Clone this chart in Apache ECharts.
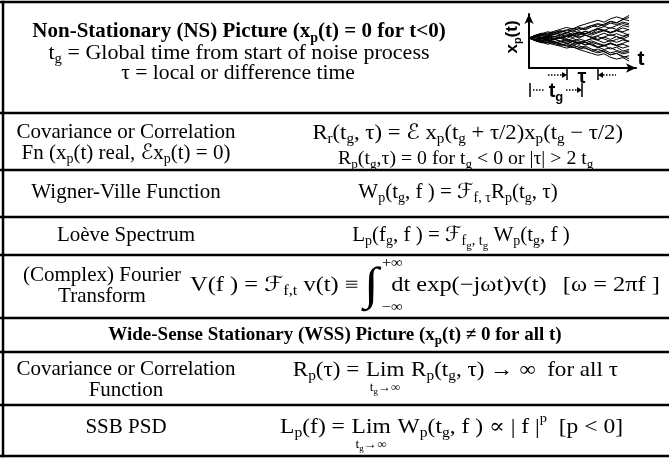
<!DOCTYPE html>
<html><head><meta charset="utf-8">
<script src="https://cdn.jsdelivr.net/npm/echarts@6/dist/echarts.min.js"></script>
<style>html,body{margin:0;padding:0;background:#fff}#c{width:669px;height:458px}</style>
</head><body><div id="c"></div>
<script>
// ---------------- data ----------------
const headerLines = [
  'Non-Stationary (NS) Picture (x_{p}(t) = 0 for t<0)',
  't_{g} = Global time from start of noise process',
  'τ = local or difference time'
];
const rowLabels = [
  ['Covariance or Correlation', 'Fn (x_{p}(t) real, ℰx_{p}(t) = 0)'],
  ['Wigner-Ville Function'],
  ['Loève Spectrum'],
  ['(Complex) Fourier', 'Transform'],
  [],
  ['Covariance or Correlation', 'Function'],
  ['SSB PSD']
];
const sectionTitle = 'Wide-Sense Stationary (WSS) Picture (x_{p}(t) ≠ 0 for all t)';
const equations = [
  ['R_{r}(t_{g}, τ) = ℰ x_{p}(t_{g} + τ/2)x_{p}(t_{g} − τ/2)', 'R_{p}(t_{g},τ) = 0 for t_{g} < 0 or |τ| > 2 t_{g}'],
  ['W_{p}(t_{g}, f ) = ℱ_{f, τ}R_{p}(t_{g}, τ)'],
  ['L_{p}(f_{g}, f ) = ℱ_{f}__{g}_{, t}__{g} W_{p}(t_{g}, f )'],
  ['V(f ) = ℱ_{f,t} v(t) ≡', 'dt exp(−jωt)v(t)', '[ω = 2πf ]'],
  [],
  ['R_{p}(τ) =', 'R_{p}(t_{g}, τ) → ∞  for all τ'],
  ['L_{p}(f) =', 'W_{p}(t_{g}, f ) ∝ | f |^{p}  [p < 0]']
];
const integralLimits = ['+∞', '−∞'];
const limitWord = 'Lim';
const limitSub = 't_{g}→∞';
const plotLabels = { y: 'x_{p}(t)', x: 't', tau: 'τ', tg: 't_{g}' };

// hand-read noise traces (x_p(t) sample paths), t = 0..16
const noiseTraces = [
  [0, .06, -.02, .1, .04, .16, .08, .22, .14, .28, .2, .36, .3, .44, .36, .52, .46],
  [0, -.06, .02, -.1, -.04, -.16, -.1, -.24, -.16, -.3, -.22, -.38, -.3, -.46, -.38, -.54, -.48],
  [0, .1, .16, .1, .24, .3, .22, .36, .44, .38, .52, .6, .54, .68, .62, .78, .72],
  [0, -.1, -.16, -.08, -.22, -.3, -.24, -.38, -.46, -.4, -.54, -.62, -.56, -.7, -.64, -.8, -.74],
  [0, .04, .1, .02, .08, -.02, .06, .14, .04, .12, .02, .1, .2, .1, .18, .08, .16],
  [0, -.04, -.1, -.02, -.08, .02, -.06, -.14, -.04, -.12, -.02, -.1, -.2, -.1, -.18, -.08, -.16],
  [0, .08, .14, .2, .28, .36, .44, .38, .5, .58, .66, .74, .66, .8, .88, .8, .94],
  [0, -.08, -.14, -.2, -.28, -.34, -.42, -.36, -.48, -.56, -.64, -.72, -.66, -.8, -.88, -.82, -.96],
  [0, .06, .12, .06, .14, .22, .16, .1, .2, .28, .18, .26, .34, .24, .32, .42, .34],
  [0, -.06, -.12, -.06, -.14, -.22, -.16, -.1, -.2, -.28, -.18, -.26, -.34, -.24, -.32, -.42, -.34],
  [0, .1, .04, -.04, .06, -.02, -.1, -.02, -.12, -.2, -.12, -.22, -.3, -.22, -.32, -.26, -.36],
  [0, -.1, -.04, .04, -.06, .02, .1, .02, .12, .2, .12, .22, .3, .22, .32, .26, .36],
  [0, .04, .12, .2, .14, .26, .34, .28, .4, .34, .46, .56, .5, .62, .56, .66, .6],
  [0, -.04, -.12, -.2, -.14, -.26, -.34, -.28, -.4, -.34, -.46, -.56, -.5, -.62, -.56, -.66, -.6],
  [0, .02, -.06, .04, -.04, .08, -.02, .1, 0, .12, .02, -.08, .04, -.06, .06, -.04, .08],
  [0, .1, .18, .26, .2, .3, .24, .14, .24, .16, .28, .38, .48, .4, .52, .6, .54],
  [0, -.1, -.18, -.26, -.2, -.3, -.24, -.14, -.24, -.16, -.28, -.38, -.48, -.4, -.52, -.6, -.54],
  [0, .06, 0, .08, .16, .24, .32, .4, .32, .44, .52, .46, .58, .7, .64, .76, .86],
  [0, -.06, 0, -.08, -.16, -.24, -.32, -.4, -.32, -.44, -.52, -.46, -.58, -.7, -.64, -.76, -.86],
  [0, .08, .02, .12, .22, .14, .06, .16, .26, .18, .3, .4, .32, .2, .3, .22, .12],
  [0, -.08, -.02, -.12, -.22, -.14, -.06, -.16, -.26, -.18, -.3, -.4, -.32, -.2, -.3, -.22, -.12],
  [0, .12, .2, .14, .04, .12, .2, .3, .22, .12, .04, -.06, .04, .14, .06, -.04, -.14],
  [0, -.12, -.2, -.14, -.04, -.12, -.2, -.3, -.22, -.12, -.04, .06, -.04, -.14, -.06, .04, .14]
];

// ---------------- layout / style ----------------
const SERIF = "'Liberation Serif','Times New Roman','DejaVu Serif','DejaVu Sans',serif";
const SANS = "'Liberation Sans',Arial,'DejaVu Sans',sans-serif";
const EDGES = [2, 113, 170, 217, 255, 318, 352, 405, 456];
const BORDER_X = 3;
const LW = 2.5;
const FS = 21;

function toRich(str) {
  let out = '', buf = '', i = 0;
  const flush = () => { if (buf) { out += '{n|' + buf + '}'; buf = ''; } };
  const grab = (k, skip) => { flush(); const j = str.indexOf('}', i); out += '{' + k + '|' + str.slice(i + skip, j) + '}'; i = j + 1; };
  while (i < str.length) {
    if (str.startsWith('__{', i)) grab('ss', 3);
    else if (str.startsWith('_{', i)) grab('s', 2);
    else if (str.startsWith('^{', i)) grab('u', 2);
    else { buf += str[i]; i++; }
  }
  flush();
  return out;
}
function richStyles(size, weight, family) {
  const f = family || SERIF, w = weight || 'normal';
  const mk = (fs, pad) => ({ fontSize: fs, fontFamily: f, fontWeight: w, fill: '#000', color: '#000', verticalAlign: 'middle', padding: pad });
  return {
    n: mk(size, [0, 0, 0, 0]),
    s: mk(Math.round(size * 0.66), [Math.round(size * 0.62), 0, 0, 0]),
    ss: mk(Math.round(size * 0.5), [Math.round(size * 1.05), 0, 0, 0]),
    u: mk(Math.round(size * 0.62), [0, 0, Math.round(size * 0.75), 0])
  };
}
function txt(str, x, y, size, opts) {
  opts = opts || {};
  return {
    type: 'text', x: x, y: y, rotation: opts.rotation || 0, scaleX: opts.sx || 1,
    style: {
      text: toRich(str), rich: richStyles(size, opts.weight, opts.family),
      align: opts.align || 'center', verticalAlign: 'middle', fill: '#000'
    }
  };
}
function measure(str, size, weight, family) {
  const t = new echarts.graphic.Text({ style: { text: toRich(str), rich: richStyles(size, weight, family) } });
  return t.getBoundingRect().width;
}

function renderRow(params, api) {
  const r = api.value(0);
  const P = (x, y) => api.coord([x, y]);
  const ch = [];
  const top = EDGES[r], bot = EDGES[r + 1];
  const hl = (y) => { const a = P(0, y), b = P(669, y); return { type: 'line', shape: { x1: a[0], y1: a[1], x2: b[0], y2: b[1] }, style: { stroke: '#000', lineWidth: LW } }; };
  const a = P(BORDER_X, top), b = P(BORDER_X, bot);
  ch.push({ type: 'line', shape: { x1: a[0], y1: a[1] - LW / 2, x2: b[0], y2: b[1] + LW / 2 }, style: { stroke: '#000', lineWidth: LW } });
  if (r === 0) ch.push(hl(top));
  ch.push(hl(bot));
  const T = (s, x, y, size, o) => { const p = P(x, y); ch.push(txt(s, p[0], p[1], size, o)); };
  if (r === 0) {
    T(headerLines[0], 239, 32, FS, { weight: 'bold' });
    T(headerLines[1], 239, 53, FS, { sx: 1.05 });
    T(headerLines[2], 238, 73, FS, { sx: 1.03 });
    return { type: 'group', children: ch };
  }
  const k = r - 1;
  const lab = rowLabels[k], eq = equations[k];
  if (k === 0) {
    const s1 = 1.08, w1 = measure(eq[0], FS) * s1;
    const c = 623 - w1 / 2;
    T(lab[0], 126, 132, FS); T(lab[1], 126, 153, FS);
    T(eq[0], c, 133, FS, { sx: s1 }); T(eq[1], c - 2, 159, 18, { sx: 1.1 });
  } else if (k === 1 || k === 2) {
    const y = k === 1 ? 192 : 235;
    T(lab[0], 126, y, FS); T(eq[0], k === 1 ? 458 : 461, y, FS);
  } else if (k === 3) {
    T(lab[0], 102, 275, FS); T(lab[1], 102, 296, FS);
    const wA = measure(eq[0], FS), wB = measure(eq[1], FS), wC = measure(eq[2], FS);
    const total = wA + 28 + wB + 14 + wC;
    const left = 190, s = (660 - left) / total;
    const X = (off) => left + off * s;
    T(eq[0], X(wA), 285, FS, { align: 'right', sx: s });
    T('∫', X(wA + 11), 287, 46, { sx: s });
    T(integralLimits[0], X(wA + 20), 263, 14, { align: 'left', sx: s });
    T(integralLimits[1], X(wA + 20), 307, 14, { align: 'left', sx: s });
    T(eq[1], X(wA + 28), 285, FS, { align: 'left', sx: s });
    T(eq[2], 660, 285, FS, { align: 'right', sx: s });
  } else if (k === 4) {
    T(sectionTitle, 335, 335, 19, { weight: 'bold' });
  } else {
    const y = k === 5 ? 370 : 427;
    const rightEnd = k === 5 ? 618 : 623;
    const s = k === 5 ? 1.1 : 1.12;
    const wB = measure(eq[1], FS) * s, wL = measure(limitWord, FS) * s;
    const bLeft = rightEnd - wB;
    const lc = bLeft - 6 * s - wL / 2;
    if (lab.length === 2) { T(lab[0], 126, 369, FS); T(lab[1], 126, 390, FS); }
    else T(lab[0], 126, y, FS);
    T(eq[0], lc - wL / 2 - 6 * s, y, FS, { align: 'right', sx: s });
    T(limitWord, lc, y, FS, { sx: s });
    T(limitSub, lc, y + 18, 12, { sx: s });
    T(eq[1], bLeft, y, FS, { align: 'left', sx: s });
  }
  return { type: 'group', children: ch };
}

// plot annotations (under the t axis)
function dotted(x1, y, x2) { return { type: 'line', shape: { x1: x1, y1: y, x2: x2, y2: y }, style: { stroke: '#000', lineWidth: 1.5, lineDash: [1.5, 1.5] } }; }
function tick(x, y1, y2) { return { type: 'line', shape: { x1: x, y1: y1, x2: x, y2: y2 }, style: { stroke: '#000', lineWidth: 1.5 } }; }
function head(x, y, dir) { return { type: 'polygon', shape: { points: [[x, y], [x - 5 * dir, y - 3], [x - 5 * dir, y + 3]] }, style: { fill: '#000' } }; }

const chart = echarts.init(document.getElementById('c'), null, { renderer: 'canvas' });
const noiseSeries = noiseTraces.map((tr) => ({
  type: 'line', xAxisIndex: 1, yAxisIndex: 1, data: tr.map((v, t) => [t, v]),
  symbol: 'none', silent: true, animation: false,
  lineStyle: { color: '#000', width: 1 }
}));

chart.setOption({
  animation: false,
  backgroundColor: '#fff',
  grid: [
    { left: 0, top: 0, right: 0, bottom: 0 },
    { left: 529, top: 14, width: 107, height: 54 }
  ],
  xAxis: [
    { type: 'value', min: 0, max: 669, show: false, gridIndex: 0 },
    { type: 'value', min: 0, max: 17.1, gridIndex: 1,
      axisLine: { show: true, onZero: false, symbol: ['none', 'arrow'], symbolSize: [7, 10], lineStyle: { color: '#000', width: 2 } },
      axisTick: { show: false }, axisLabel: { show: false }, splitLine: { show: false } }
  ],
  yAxis: [
    { type: 'value', min: 0, max: 458, inverse: true, show: false, gridIndex: 0 },
    { type: 'value', min: -1.25, max: 1.0, gridIndex: 1,
      axisLine: { show: true, onZero: false, symbol: ['none', 'arrow'], symbolSize: [7, 10], lineStyle: { color: '#000', width: 2 } },
      axisTick: { show: false }, axisLabel: { show: false }, splitLine: { show: false } }
  ],
  series: [
    { type: 'custom', xAxisIndex: 0, yAxisIndex: 0, silent: true, data: [[0], [1], [2], [3], [4], [5], [6], [7]],
      renderItem: renderRow, clip: false, z: 1 }
  ].concat(noiseSeries),
  graphic: [
    txt(plotLabels.y, 512, 37, 17, { weight: 'bold', family: SANS, rotation: Math.PI / 2 }),
    txt(plotLabels.x, 641, 59, 21, { weight: 'bold', family: SANS }),
    dotted(548, 75, 562), head(567, 75, 1), tick(567, 69, 80),
    txt(plotLabels.tau, 582, 77, 20, { weight: 'bold', family: SANS }),
    tick(598, 69, 80), head(598, 75, -1), dotted(603, 75, 616),
    tick(530, 83, 97), dotted(533, 90, 545),
    txt(plotLabels.tg, 556, 91, 20, { weight: 'bold', family: SANS }),
    dotted(566, 90, 577), head(582, 90, 1), tick(582, 83, 97)
  ]
});
</script></body></html>
